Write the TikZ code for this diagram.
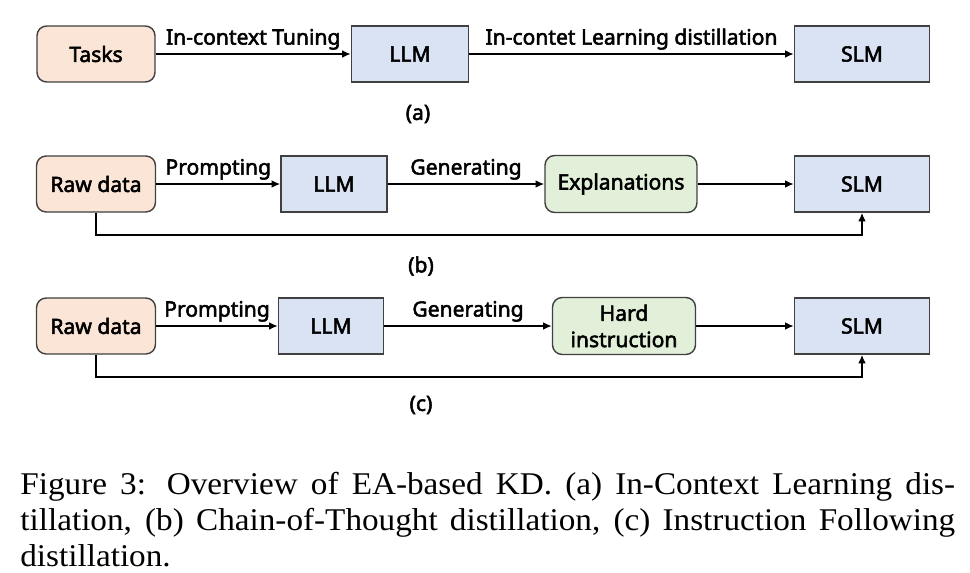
\documentclass[tikz,border=0pt]{standalone}
\usepackage{fontspec}
\setmainfont{Noto Sans}
\newfontfamily\boxfont{Noto Sans}[FakeBold=2.5]
\newfontfamily\capfont{Liberation Serif}
\usepackage{tikz}
\usetikzlibrary{arrows.meta}

\definecolor{peach}{HTML}{FBE5D6}
\definecolor{paleblue}{HTML}{DAE3F3}
\definecolor{palegreen}{HTML}{E2F0D9}
\definecolor{edge}{HTML}{404040}

\begin{document}
\begin{tikzpicture}[x=0.02cm,y=-0.02cm,
  inbox/.style={draw=edge,line width=0.8pt,rounded corners=5.5pt,fill=peach,
    minimum height=1.12cm,font=\boxfont\fontsize{12}{15}\selectfont},
  midbox/.style={inbox,fill=palegreen},
  lm/.style={draw=edge,line width=0.8pt,fill=paleblue,minimum height=1.12cm,
    font=\boxfont\fontsize{12}{15}\selectfont},
  arr/.style={line width=1pt,-{Latex[length=5pt,width=4.5pt]}},
  lbl/.style={above,inner sep=2pt,font=\boxfont\fontsize{12}{15}\selectfont},
  tag/.style={font=\boxfont\fontsize{12}{14}\selectfont},
  capline/.style={anchor=base west,inner sep=0,font=\capfont\fontsize{18}{20}\selectfont}]
\useasboundingbox (0,0) rectangle (970,572);
% (a)
\node[inbox,minimum width=2.36cm] (tasks) at (96,54) {Tasks};
\node[lm,minimum width=2.34cm] (llma) at (410,54) {LLM};
\node[lm,minimum width=2.7cm] (slma) at (862,54) {SLM};
\draw[arr] (tasks) -- node[lbl]{In-context Tuning} (llma);
\draw[arr] (llma) -- node[lbl]{In-contet Learning distillation} (slma);
\node[tag] (capa) at (418,114) {(a)};
% (b)
\node[inbox,minimum width=2.38cm] (rawb) at (96,184) {Raw data};
\node[lm,minimum width=2.12cm] (llmb) at (334,184) {LLM};
\node[midbox,minimum width=3.04cm,minimum height=1.14cm] (expl) at (621,184) {Explanations};
\node[lm,minimum width=2.7cm] (slmb) at (862,184) {SLM};
\draw[arr] (rawb) -- node[lbl]{Prompting} (llmb);
\draw[arr] (llmb) -- node[lbl]{Generating} (expl);
\draw[arr] (expl) -- (slmb);
\draw[arr] (rawb.south) -- ++(0,22) -| (slmb.south);
\node[tag] (capb) at (421,266) {(b)};
% (c)
\node[inbox,minimum width=2.38cm] (rawc) at (96,326) {Raw data};
\node[lm,minimum width=2.1cm] (llmc) at (331,326) {LLM};
\node[midbox,align=center,minimum width=2.86cm,minimum height=1.14cm] (hard) at (624,326) {Hard\\instruction};
\node[lm,minimum width=2.7cm] (slmc) at (862,326) {SLM};
\draw[arr] (rawc) -- node[lbl]{Prompting} (llmc);
\draw[arr] (llmc) -- node[lbl]{Generating} (hard);
\draw[arr] (hard) -- (slmc);
\draw[arr] (rawc.south) -- ++(0,22) -| (slmc.south);
\node[tag] (capc) at (421,405) {(c)};
% caption
\node[capline] (cap1) at (20,494)
  {\scalebox{1.05}[1]{\makebox[17.81cm][s]{Figure 3: Overview of EA-based KD. (a) In-Context Learning dis-}}};
\node[capline] (cap2) at (20,530)
  {\scalebox{1.05}[1]{\makebox[17.81cm][s]{tillation, (b) Chain-of-Thought distillation, (c) Instruction Following}}};
\node[capline] (cap3) at (20,566)
  {\scalebox{1.05}[1]{distillation.}};
\end{tikzpicture}
\end{document}
